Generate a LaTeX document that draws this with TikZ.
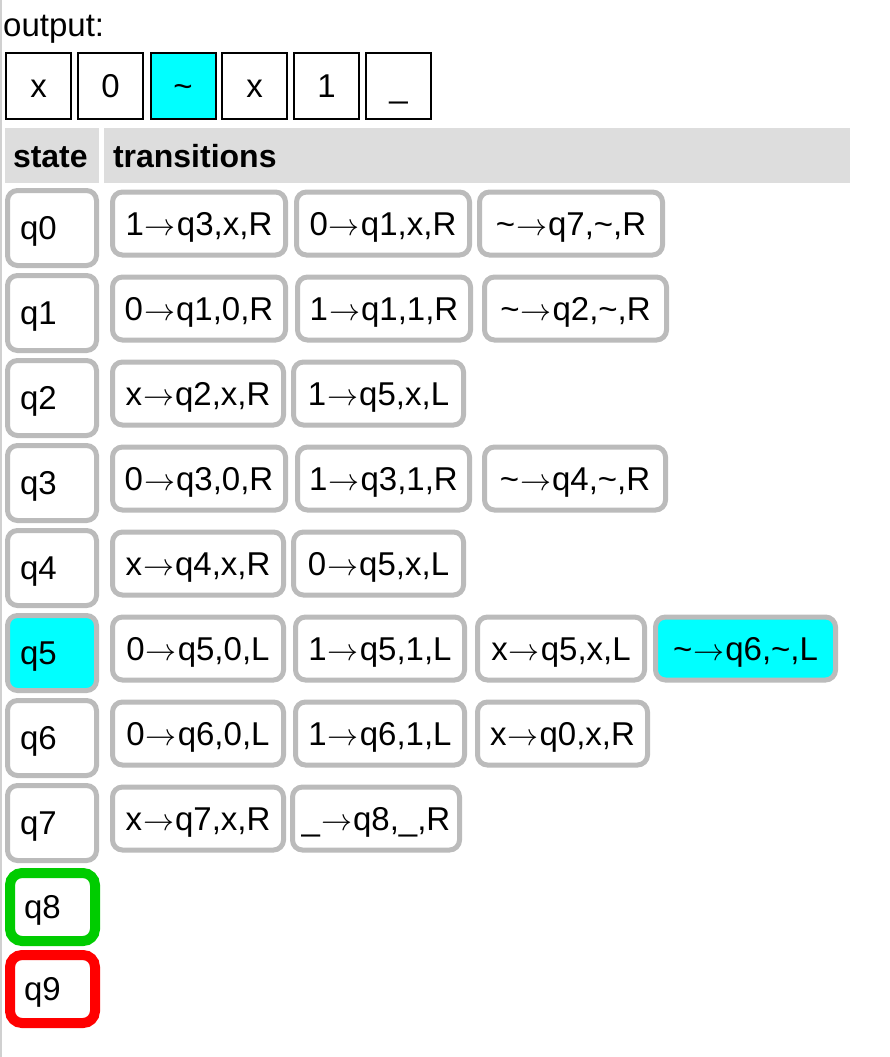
\documentclass[tikz,border=0pt]{standalone}
\usepackage{graphicx}
\usepackage{fontspec}
\setmainfont{Liberation Sans}
\definecolor{bgray}{HTML}{BBBBBB}
\definecolor{hgray}{HTML}{DDDDDD}
\definecolor{lgray}{HTML}{D0D0D0}
\definecolor{cyanhl}{HTML}{00FFFF}
\definecolor{accgreen}{HTML}{00CC00}
\definecolor{rejred}{HTML}{FF0000}
\newcommand\Tld{\textasciitilde}
\newcommand\Und{\_}
\newcommand\Arr{\kern1pt\scalebox{3.1}{\fontsize{10}{12}\selectfont$\rightarrow$}\kern1pt}
\newcommand\mktrans[6]{%
  \pgfmathsetmacro\cx{(#2+#3)/2}%
  \pgfmathsetmacro\cw{#3-#2-5}%
  \pgfmathsetmacro\cy{188+85*#4+34+1.5}%
  \node[trbox,#6,minimum width=\cw pt] (#1) at (\cx,\cy) {#5};}
\newcommand\mkstate[4]{%
  \pgfmathsetmacro\cy{188+85*#2+40}%
  \node[stbox,#4] (#1) at (52,\cy) {#3};}
\tikzset{
  txt/.style={font=\fontsize{33}{39}\selectfont, text height=23.6pt, text depth=0pt},
  tape/.style={txt, draw=black, line width=2pt, minimum width=65pt, minimum height=66pt, inner sep=0pt, fill=white},
  trbox/.style={txt, draw=bgray, line width=5pt, rounded corners=10pt, fill=white, minimum height=63pt, inner sep=0pt},
  stbox/.style={txt, draw=bgray, line width=5pt, rounded corners=10pt, fill=white, minimum height=75pt, text width=64pt, inner xsep=12.5pt, inner ysep=0pt, align=left},
  finbox/.style={txt, line width=10pt, rounded corners=12pt, fill=white, minimum height=68pt, text width=57pt, inner xsep=14pt, inner ysep=0pt, align=left},
  hdr/.style={txt, font=\fontsize{32}{38}\selectfont\bfseries, fill=hgray, minimum height=55pt, inner ysep=0pt, align=left},
}
\begin{document}
\begin{tikzpicture}[x=1pt,y=-1pt]
\useasboundingbox[fill=white] (0,0) rectangle (890,1057);
\draw[lgray, line width=1.5pt] (0.75,0) -- (0.75,1057);
\node[txt, anchor=base west, inner sep=0pt] (outlbl) at (3,37) {output:};
% tape
\node[tape] (c1) at (38.5,86) {x};
\node[tape] (c2) at (110.5,86) {0};
\node[tape, fill=cyanhl] (c3) at (183,86) {\Tld};
\node[tape] (c4) at (254.5,86) {x};
\node[tape] (c5) at (326.5,86) {1};
\node[tape] (c6) at (398.5,86) {\Und};
% header
\node[hdr, text width=78pt, inner xsep=8pt] (hstate) at (52,155.5) {state};
\node[hdr, text width=728pt, inner xsep=9pt] (htrans) at (477,155.5) {transitions};
% states
\mkstate{q0}{0}{q0}{}
\mkstate{q1}{1}{q1}{}
\mkstate{q2}{2}{q2}{}
\mkstate{q3}{3}{q3}{}
\mkstate{q4}{4}{q4}{}
\mkstate{q5}{5}{q5}{fill=cyanhl}
\mkstate{q6}{6}{q6}{}
\mkstate{q7}{7}{q7}{}
\node[finbox, draw=accgreen] (q8) at (52.5,907) {q8};
\node[finbox, draw=rejred] (q9) at (52.5,989) {q9};
% transitions
\mktrans{t00}{110}{288}{0}{1\Arr q3,x,R}{}
\mktrans{t01}{294}{472}{0}{0\Arr q1,x,R}{}
\mktrans{t02}{477}{665}{0}{\Tld\Arr q7,\Tld,R}{}
\mktrans{t10}{110}{288}{1}{0\Arr q1,0,R}{}
\mktrans{t11}{295}{473}{1}{1\Arr q1,1,R}{}
\mktrans{t12}{482}{669}{1}{\Tld\Arr q2,\Tld,R}{}
\mktrans{t20}{110}{286}{2}{x\Arr q2,x,R}{}
\mktrans{t21}{291}{466}{2}{1\Arr q5,x,L}{}
\mktrans{t30}{110}{288}{3}{0\Arr q3,0,R}{}
\mktrans{t31}{295}{472}{3}{1\Arr q3,1,R}{}
\mktrans{t32}{482}{668}{3}{\Tld\Arr q4,\Tld,R}{}
\mktrans{t40}{110}{286}{4}{x\Arr q4,x,R}{}
\mktrans{t41}{291}{466}{4}{0\Arr q5,x,L}{}
\mktrans{t50}{110}{286}{5}{0\Arr q5,0,L}{}
\mktrans{t51}{293}{467}{5}{1\Arr q5,1,L}{}
\mktrans{t52}{475}{647}{5}{x\Arr q5,x,L}{}
\mktrans{t53}{653}{838}{5}{\Tld\Arr q6,\Tld,L}{fill=cyanhl}
\mktrans{t60}{110}{286}{6}{0\Arr q6,0,L}{}
\mktrans{t61}{293}{467}{6}{1\Arr q6,1,L}{}
\mktrans{t62}{475}{650}{6}{x\Arr q0,x,R}{}
\mktrans{t70}{110}{286}{7}{x\Arr q7,x,R}{}
\mktrans{t71}{290}{462}{7}{\Und\Arr q8,\Und,R}{}
\end{tikzpicture}
\end{document}
